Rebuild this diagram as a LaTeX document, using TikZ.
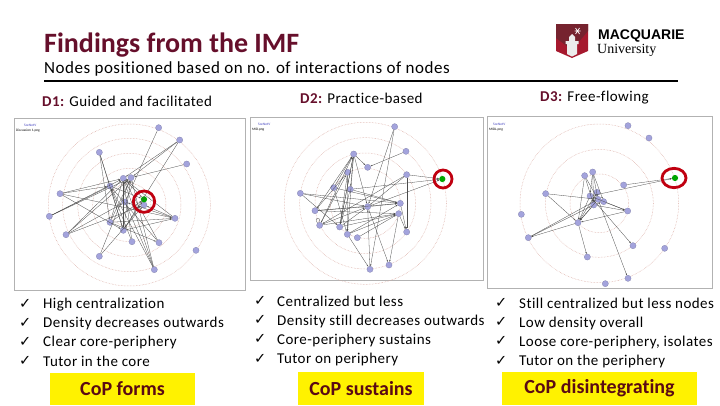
\documentclass[tikz,border=0pt]{standalone}
\usepackage{fontspec}
\setmainfont[Ligatures=NoCommon]{Carlito}
\newfontfamily\bodyfont[LetterSpace=3,Ligatures=NoCommon]{Carlito}
\newfontfamily\chkfont{DejaVu Sans}
\newfontfamily\logosans{Liberation Sans}
\newfontfamily\logoserif{Liberation Serif}
\usetikzlibrary{arrows.meta,backgrounds}
\definecolor{maroon}{HTML}{660F2B}
\definecolor{darkmaroon}{HTML}{5A0A14}
\definecolor{mqred}{HTML}{A6192E}
\definecolor{mqdark}{HTML}{76232F}
\definecolor{nodeblue}{HTML}{A3A3DC}
\definecolor{ringc}{HTML}{D9A79E}
\definecolor{markred}{HTML}{C00010}
\tikzset{
  x=1pt,y=-1pt,
  panel/.style={draw=black!30,line width=0.8pt},
  sna/.style={circle,fill=nodeblue,draw=nodeblue!75!black,line width=0.2pt,minimum size=6.2pt,inner sep=0pt},
  tutor/.style={circle,fill=green!65!black,minimum size=6.2pt,inner sep=0pt},
  ring/.style={draw=ringc,line width=0.5pt,densely dotted},
  snaedge/.style={draw=black!70,line width=0.3pt,-{Stealth[length=2pt,width=1.3pt]}},
  redmark/.style={draw=markred,line width=2.8pt},
  txt/.style={anchor=base west,inner sep=0pt,font=\bodyfont\fontsize{15}{15}\selectfont,text=black},
  chk/.style={anchor=base west,inner sep=0pt,font=\chkfont\bfseries\fontsize{14.5}{14.5}\selectfont,text=black},
  ybox/.style={fill=yellow,inner sep=0pt,font=\bfseries\fontsize{20}{20}\selectfont,text=darkmaroon,align=center},
  zoomed/.style={x=0.33333pt,y=-0.33333pt},
  smalltag/.style={anchor=west,inner sep=0pt,font=\fontsize{3.5}{4}\selectfont}
}
\begin{document}
\begin{tikzpicture}
\useasboundingbox (0,0) rectangle (720,405);
\begin{scope}[on background layer]
\fill[white] (0,0) rectangle (720,405);
\end{scope}

% Title
\node[anchor=base west,inner sep=0pt,font=\bfseries\fontsize{28}{28}\selectfont,text=maroon] (title) at (44,52) {Findings from the IMF};
\node[txt,font=\bodyfont\fontsize{17}{17}\selectfont] (subtitle) at (44,73) {Nodes positioned based on no. of interactions of nodes};
\coordinate (ruleL) at (44,81); \coordinate (ruleR) at (678,81);
\draw[line width=1.6pt] (ruleL) -- (ruleR);

% Logo
\fill[mqred] (556,24) -- (588,24) -- (588,51) -- (572,58) -- (556,51) -- cycle;
\fill[mqdark] (556,24) -- (588,24) -- (588,31) -- (572,50) -- (556,38) -- cycle;
\fill[white!85!gray] (567,52) -- (567,44) -- (565.5,44) -- (565.5,41) -- (569,41) -- (569,37) -- (572,34) -- (575,37) -- (575,41) -- (578.5,41) -- (578.5,44) -- (577,44) -- (577,54) -- (572,56.5) -- (567,54) -- cycle;
\draw[white,line width=0.7pt] (575.5,28) -- (579.5,34) (579.5,28) -- (575.5,34) (574.5,31) -- (580.5,31);
\node[anchor=base west,inner sep=0pt,font=\logosans\bfseries\fontsize{14}{14}\selectfont] (mq) at (598,39.5) {MACQUARIE};
\node[anchor=base west,inner sep=0pt,font=\logoserif\fontsize{14}{14}\selectfont] (uni) at (597,53) {University};

% Headings
\node[txt] (d1) at (42,106) {\textbf{\textcolor{maroon}{D1:}} Guided and facilitated};
\node[txt] (d2) at (300,103) {\textbf{\textcolor{maroon}{D2:}} Practice-based};
\node[txt] (d3) at (540,101) {\textbf{\textcolor{maroon}{D3:}} Free-flowing};

% Panel 1
\draw[panel] (14,118) rectangle (245,290);
\begin{scope}[shift={(0,110)},zoomed]
  \foreach \r in {243,200,155,110,65} \draw[ring] (388,285) circle [radius=\r];
  \foreach \n/\x/\y in {a/476/53,b/539/90,c/560/162,d/298/127,e/370/205,f/393/203,g/330/228,h/180/251,i/375/276,j/148/319,k/198/374,l/330/337,m/370/361,n/396/395,o/298/439,p/463/479,q/477/398,r/525/325,s/588/421,t/432/285}
    \node[sna] (A\n) at (\x,\y) {};
  \node[tutor] (Atut) at (432,268) {};
  \foreach \u/\v in {a/i,b/e,b/f,b/m,c/f,d/m,d/l,d/g,h/e,h/g,h/m,h/r,j/g,j/e,j/f,k/e,k/f,k/i,k/t,l/f,l/e,l/r,l/q,m/f,m/e,m/r,m/g,n/e,n/g,o/f,o/t,p/f,p/e,p/i,p/g,q/e,q/g,r/t,r/i,r/e,g/tut,e/tut,l/tut,m/tut}
    \draw[snaedge] (A\u) -- (A\v);
  \draw[redmark] (432,275) circle [radius=32];
\end{scope}
\node[smalltag,text=blue!50!gray] (t1a) at (24,125.5) {SocNetV};
\node[smalltag] (t1b) at (16,130.5) {Discussion 1.png};

% Panel 2
\draw[panel] (250,117) rectangle (483,280);
\begin{scope}[shift={(245,110)},zoomed]
  \foreach \r in {243,197,151,105} \draw[ring] (361,280) circle [radius=\r];
  \foreach \n/\x/\y in {a/449/50,b/483/124,c/326/132,d/368/172,e/485/194,f/308/187,g/266/233,h/316/238,i/166/250,j/466/280,k/368/290,l/210/302,m/461/311,n/224/346,o/284/351,p/307/373,q/337/383,r/485/366,s/432/465,t/375/478}
    \node[sna] (B\n) at (\x,\y) {};
  \node[tutor] (Btut) at (592,207) {};
  \foreach \u/\v in {a/k,a/t,b/d,c/d,c/o,c/p,c/k,c/n,c/h,e/tut,e/k,e/r,e/n,f/o,f/p,f/l,g/j,g/p,g/c,h/o,h/tut,h/j,i/k,i/j,i/o,l/k,l/j,l/m,l/c,n/f,n/k,n/m,o/m,o/k,o/c,p/m,p/t,p/j,q/m,k/s,k/j,k/tut,m/s,m/r,j/r,t/k}
    \draw[snaedge] (B\u) -- (B\v);
  \draw[snaedge,-] (Bn) .. controls (205,325) and (225,315) .. (Bn);
  \draw[redmark] (594,207) circle [radius=27];
\end{scope}
\node[smalltag,text=blue!50!gray] (t2a) at (258,124.5) {SocNetV};
\node[smalltag] (t2b) at (252,129.5) {MID.png};

% Panel 3
\draw[panel] (487,116) rectangle (712,288);
\begin{scope}[shift={(480,110)},zoomed]
  \foreach \r in {238,162,88} \draw[ring] (358,280) circle [radius=\r];
  \foreach \n/\x/\y in {a/444/47,b/507/84,c/314/197,d/338/186,e/431/225,f/197/251,g/351/247,h/330/258,i/354/268,j/371/275,k/341/285,l/443/303,m/124/313,n/294/338,o/145/383,p/459/407,q/554/415,r/322/441,s/444/505,t/376/521}
    \node[sna] (C\n) at (\x,\y) {};
  \node[tutor] (Ctut) at (585,204) {};
  \foreach \u/\v in {c/n,c/k,c/i,d/k,d/h,d/j,d/i,e/tut,h/tut,f/i,f/n,g/n,h/n,i/n,k/n,k/l,l/n,l/h,n/o,o/k,o/i,n/r,h/p,i/s,k/j,j/l,g/k}
    \draw[snaedge] (C\u) -- (C\v);
  \draw[redmark] (582,204) ellipse [x radius=36,y radius=29];
\end{scope}
\node[smalltag,text=blue!50!gray] (t3a) at (493,124.5) {SocNetV};
\node[smalltag] (t3b) at (489,129.5) {MIDL.png};

% Lists
\foreach \n/\y in {1/308,2/327,3/346,4/365.5} \node[chk] (c1\n) at (19,\y) {✓};
\node[txt] (l11) at (43,308.5) {High centralization};
\node[txt] (l12) at (43,327.5) {Density decreases outwards};
\node[txt] (l13) at (43,346.5) {Clear core-periphery};
\node[txt] (l14) at (43,366) {Tutor in the core};

\foreach \n/\y in {1/305.5,2/324.5,3/343.5,4/363} \node[chk] (c2\n) at (254,\y) {✓};
\node[txt] (l21) at (277,306) {Centralized but less};
\node[txt] (l22) at (277,325) {Density still decreases outwards};
\node[txt] (l23) at (277,344) {Core-periphery sustains};
\node[txt] (l24) at (277,363.5) {Tutor on periphery};

\foreach \n/\y in {1/307.5,2/326.5,3/345.5,4/365} \node[chk] (c3\n) at (495,\y) {✓};
\node[txt] (l31) at (519,308) {Still centralized but less nodes};
\node[txt] (l32) at (519,327) {Low density overall};
\node[txt] (l33) at (519,346) {Loose core-periphery, isolates};
\node[txt] (l34) at (519,365.5) {Tutor on the periphery};

% Boxes
\node[ybox,minimum width=145pt,minimum height=32pt] (b1) at (122.5,389) {CoP forms};
\node[ybox,minimum width=126pt,minimum height=33pt] (b2) at (361,388.5) {CoP sustains};
\node[ybox,minimum width=195pt,minimum height=33pt] (b3) at (599.5,388.5) {CoP disintegrating};
\end{tikzpicture}
\end{document}
